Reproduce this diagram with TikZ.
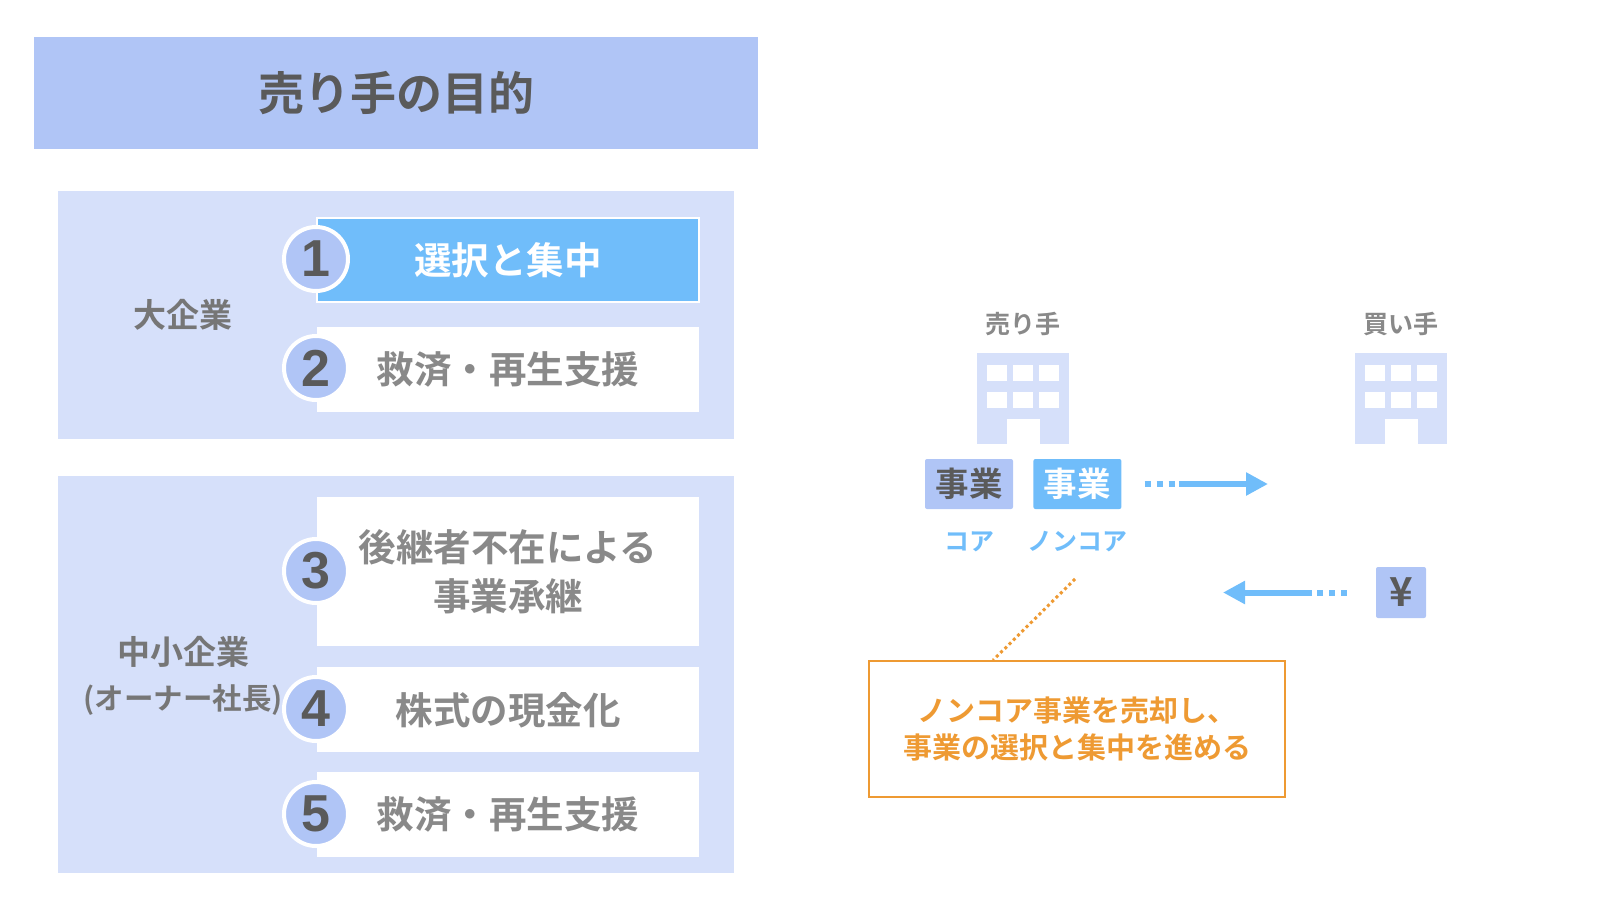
\documentclass[tikz,border=0pt]{standalone}
\usepackage{fontspec}
\setmainfont{Noto Sans CJK JP}[BoldFont={Noto Sans CJK JP Bold}]
\newfontfamily\numfont{Liberation Sans}
\usepackage{xcolor}
\usetikzlibrary{arrows.meta,positioning}
\definecolor{titleblue}{HTML}{B0C5F6}
\definecolor{panelblue}{HTML}{D6E0FA}
\definecolor{skyblue}{HTML}{70BDFA}
\definecolor{darktext}{HTML}{5A5A5A}
\definecolor{midtext}{HTML}{767676}
\definecolor{softtext}{HTML}{898989}
\definecolor{noteorange}{HTML}{EE9A33}
\tikzset{
  titlebox/.style={fill=titleblue, minimum width=724pt, minimum height=112pt, inner sep=0pt, text=darktext, font=\fontsize{46}{54}\selectfont\bfseries},
  panelbox/.style={fill=panelblue, minimum width=676pt, inner sep=0pt},
  rowbox/.style={fill=white, minimum width=382pt, inner sep=0pt, align=center, text=softtext, font=\fontsize{37.5}{49}\selectfont\bfseries},
  rowhot/.style={rowbox, fill=skyblue, draw=white, line width=1.5pt, text=white},
  numdisc/.style={circle, fill=titleblue, draw=white, line width=4pt, minimum size=64pt, inner sep=0pt, text=darktext, font=\fontsize{52}{52}\selectfont\numfont\bfseries},
  grouplabel/.style={text=midtext, inner sep=0pt, font=\fontsize{33}{40}\selectfont\bfseries},
  sidelabel/.style={text=softtext, inner sep=0pt, font=\fontsize{25}{30}\selectfont\bfseries},
  buildingbody/.style={fill=panelblue, minimum width=92pt, minimum height=91pt, inner sep=0pt},
  buildinghole/.style={fill=white, minimum width=20pt, minimum height=16pt, inner sep=0pt},
  bizbox/.style={rounded corners=2pt, minimum width=88pt, minimum height=50pt, inner sep=0pt, font=\fontsize{33.5}{40}\selectfont\bfseries},
  bizlabel/.style={text=skyblue, inner sep=0pt, font=\fontsize{25}{30}\selectfont\bfseries},
  flowdots/.style={draw=skyblue, line width=6pt, dash pattern=on 6pt off 6pt},
  flowline/.style={draw=skyblue, line width=6pt, -{Triangle[length=22pt,width=22pt]}},
  notebox/.style={draw=noteorange, line width=1.5pt, minimum width=416pt, minimum height=136pt, align=center, inner sep=0pt, text=noteorange, font=\fontsize{29}{37.5}\selectfont\bfseries},
  noteleader/.style={draw=noteorange, line width=3pt, dash pattern=on 3pt off 3pt}
}
\begin{document}
\begin{tikzpicture}[x=1pt, y=-1pt]
  \useasboundingbox (0,0) rectangle (1600,900);

  % left side
  \node[titlebox] (title) at (396,93) {売り手の目的};
  \node[panelbox, minimum height=248pt] (largepanel) at (396,315) {};
  \node[panelbox, minimum height=397pt] (smallpanel) at (396,674.5) {};

  \node[rowhot, minimum height=84pt] (rowone) at (508,260) {選択と集中};
  \node[rowbox, minimum height=85pt, below=24pt of rowone] (rowtwo) {救済・再生支援};
  \node[rowbox, minimum height=149pt] (rowthree) at (508,571.5) {後継者不在による\\事業承継};
  \node[rowbox, minimum height=85pt, below=21pt of rowthree] (rowfour) {株式の現金化};
  \node[rowbox, minimum height=85pt, below=19pt of rowfour] (rowfive) {救済・再生支援};

  \node[numdisc] (numone) at (316,259) {1};
  \node[numdisc] (numtwo) at (316,368) {2};
  \node[numdisc] (numthree) at (316,571) {3};
  \node[numdisc] (numfour) at (316,709) {4};
  \node[numdisc] (numfive) at (316,814) {5};

  \node[grouplabel] (largelabel) at (183,315) {大企業};
  \node[grouplabel] (smalllabel) at (183,652) {中小企業};
  \node[grouplabel, font=\fontsize{29.5}{34}\selectfont\bfseries] (ownerlabel) at (183,700) {(オーナー社長)};

  % right side
  \foreach \bname/\bx in {seller/1023,buyer/1401} {
    \node[buildingbody] (\bname) at (\bx,398.5) {};
    \foreach \col in {-26,0,26}
      \foreach \wy in {373,400}
        \node[buildinghole] (\bname win\col\wy) at (\bx+\col,\wy) {};
    \node[buildinghole, minimum width=33pt, minimum height=26pt] (\bname door) at (\bx,431.5) {};
  }
  \node[sidelabel] (sellerlabel) at (1023,324) {売り手};
  \node[sidelabel] (buyerlabel) at (1401,324) {買い手};

  \node[bizbox, fill=titleblue, text=darktext] (corebox) at (969,484) {事業};
  \node[bizbox, fill=skyblue, text=white, right=20pt of corebox] (noncorebox) {事業};
  \node[bizlabel] (corelabel) at (969,541.5) {コア};
  \node[bizlabel] (noncorelabel) at (1077,541.5) {ノンコア};

  \node[bizbox, fill=titleblue, text=darktext, minimum width=50pt, minimum height=51pt, font=\fontsize{40}{40}\selectfont\bfseries] (yenbox) at (1401,592.5) {¥};

  \coordinate (salebreak) at (1177,484);
  \coordinate (salehead) at (1268,484);
  \coordinate (paybreak) at (1315,592.5);
  \coordinate (payhead) at (1223,592.5);
  \draw[flowdots, shorten <=23pt] (noncorebox.east) -- (salebreak);
  \draw[flowline] (1179,484) -- (salehead);
  \draw[flowdots, shorten <=29pt] (yenbox.west) -- (paybreak);
  \draw[flowline] (1312,592.5) -- (payhead);

  \node[notebox] (note) at (1077,729) {ノンコア事業を売却し、\\事業の選択と集中を進める};
  \coordinate (leadertop) at (1075,579);
  \draw[noteleader] (leadertop) -- ([xshift=-84pt]note.north);
\end{tikzpicture}
\end{document}
